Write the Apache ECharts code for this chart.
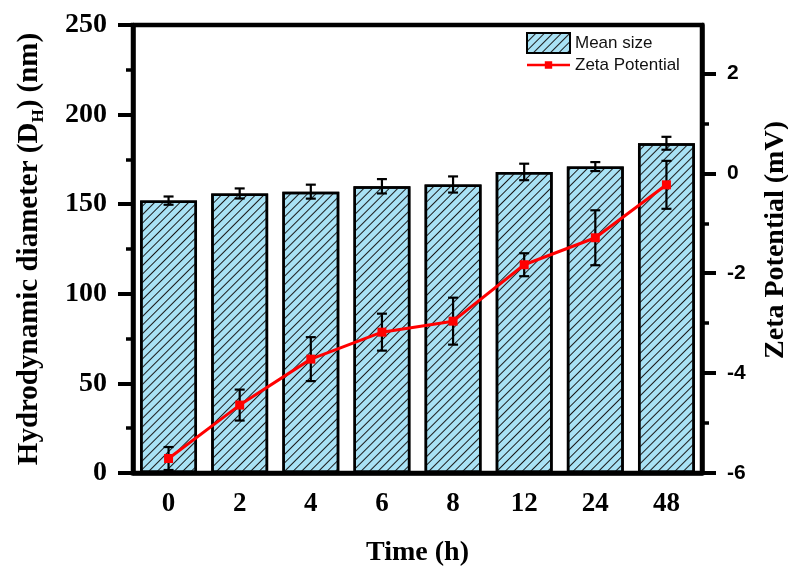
<!DOCTYPE html>
<html>
<head>
<meta charset="utf-8">
<script src="https://cdn.jsdelivr.net/npm/echarts@6/dist/echarts.min.js"></script>
<style>
html,body{margin:0;padding:0;background:#fff;}
#chart{width:788px;height:569px;}
</style>
</head>
<body>
<div id="chart"></div>
<script>
// time points (h)
var timeLabels = ['0','2','4','6','8','12','24','48'];
// hydrodynamic diameter (nm) and its error
var sizeMean = [152, 156, 157, 160, 161, 168, 171, 184];
var sizeErr  = [2.3, 2.8, 3.9, 4.0, 4.5, 4.6, 2.5, 3.6];
// zeta potential (mV) and its error
var zetaMean = [-5.71, -4.64, -3.72, -3.18, -2.96, -1.83, -1.29, -0.23];
var zetaErr  = [0.23, 0.31, 0.44, 0.37, 0.47, 0.23, 0.55, 0.48];
// right axis ticks
var zetaMajor = [-6, -4, -2, 0, 2];
var zetaMinor = [-5, -3, -1, 1];

var serif = '"Liberation Serif", "Times New Roman", serif';
var sans = '"Liberation Sans", Arial, sans-serif';

function errData(mean, err){
    var out = [];
    for(var i=0;i<mean.length;i++){
        out.push([i, mean[i]-err[i], mean[i]+err[i]]);
    }
    return out;
}

function errRender(params, api){
    var x = api.value(0);
    var lo = api.coord([x, api.value(1)]);
    var hi = api.coord([x, api.value(2)]);
    var w = 5;
    var st = {stroke:'#000', lineWidth:2.2};
    return {
        type:'group',
        children:[
            {type:'line', shape:{x1:lo[0], y1:lo[1], x2:hi[0], y2:hi[1]}, style:st},
            {type:'line', shape:{x1:lo[0]-w, y1:lo[1], x2:lo[0]+w, y2:lo[1]}, style:st},
            {type:'line', shape:{x1:hi[0]-w, y1:hi[1], x2:hi[0]+w, y2:hi[1]}, style:st}
        ]
    };
}

// legend icon: thin line with a small square in the middle (43x20 box)
var lineIcon = 'path://M0,0L0.01,0L0,0.01Z M43,20L42.99,20L43,19.99Z M0,8.8L43,8.8L43,11.2L0,11.2Z M17.8,6.3L25.2,6.3L25.2,13.7L17.8,13.7Z';

var myChart = echarts.init(document.getElementById('chart'));
myChart.setOption({
    animation:false,
    backgroundColor:'#fff',
    grid:{
        left:133, right:86, top:25, bottom:96,
        outerBoundsMode:'none',
        containLabel:false,
        show:true, borderColor:'#000', borderWidth:4.5
    },
    legend:{
        orient:'vertical',
        left:521, top:27,
        itemWidth:43, itemHeight:20, itemGap:1,
        data:[{name:'Mean size', icon:'rect'}, {name:'Zeta Potential', icon:lineIcon}],
        textStyle:{fontFamily:sans, fontSize:17, color:'#111'}
    },
    xAxis:[
        {
            type:'category',
            data:timeLabels,
            name:'Time (h)',
            nameLocation:'middle',
            nameGap:66,
            nameTextStyle:{fontFamily:serif, fontWeight:'bold', fontSize:28, color:'#000'},
            axisLine:{lineStyle:{color:'#000', width:4.5}},
            axisTick:{alignWithLabel:true, length:11, lineStyle:{color:'#000', width:4}},
            axisLabel:{margin:18, fontFamily:serif, fontWeight:'bold', fontSize:27, color:'#000'}
        },
        {
            type:'category',
            data:timeLabels,
            position:'bottom',
            axisLine:{show:false},
            axisTick:{length:5, lineStyle:{color:'#000', width:4}},
            axisLabel:{show:false}
        }
    ],
    yAxis:[
        {
            type:'value',
            min:0, max:250, interval:50,
            name:'Hydrodynamic diameter (D{sub|H}) (nm)',
            nameLocation:'middle',
            nameRotate:90,
            nameGap:86,
            nameTextStyle:{
                fontFamily:serif, fontWeight:'bold', fontSize:29, color:'#000', lineHeight:34,
                rich:{sub:{fontFamily:serif, fontWeight:'bold', fontSize:17, lineHeight:17, verticalAlign:'bottom', color:'#000'}}
            },
            axisLine:{show:true, lineStyle:{color:'#000', width:4.5}},
            axisTick:{show:true, length:15, lineStyle:{color:'#000', width:4}},
            minorTick:{show:true, splitNumber:2, length:7, lineStyle:{color:'#000', width:3.5}},
            splitLine:{show:false},
            axisLabel:{margin:26, fontFamily:serif, fontWeight:'bold', fontSize:28, color:'#000'}
        },
        {
            type:'value',
            position:'right',
            min:-6, max:2.97,
            name:'Zeta Potential (mV)',
            nameLocation:'middle',
            nameRotate:90,
            nameGap:60,
            nameTextStyle:{fontFamily:serif, fontWeight:'bold', fontSize:28, color:'#000', padding:[0,0,0,18]},
            axisLine:{show:true, lineStyle:{color:'#000', width:4.5}},
            axisTick:{show:true, length:14, customValues:zetaMajor, lineStyle:{color:'#000', width:4}},
            splitLine:{show:false},
            axisLabel:{margin:25, customValues:zetaMajor, fontFamily:sans, fontWeight:'bold', fontSize:21, color:'#000'}
        },
        {
            type:'value',
            position:'right',
            min:-6, max:2.97,
            axisLine:{show:false},
            axisTick:{show:true, length:7, customValues:zetaMinor, lineStyle:{color:'#000', width:3.5}},
            splitLine:{show:false},
            axisLabel:{show:false}
        }
    ],
    series:[
        {
            name:'Mean size',
            type:'bar',
            barWidth:'80%',
            data:sizeMean,
            itemStyle:{
                color:'#a9e2f5',
                borderColor:'#000',
                borderWidth:2.5,
                decal:{
                    symbol:'rect',
                    symbolSize:1,
                    color:'#1a1a1a',
                    dashArrayX:[1,0],
                    dashArrayY:[1,5],
                    rotation:-Math.PI/4
                }
            },
            z:2
        },
        {
            type:'custom',
            name:'sizeErr',
            data:errData(sizeMean, sizeErr),
            encode:{x:0, y:[1,2]},
            renderItem:errRender,
            z:3
        },
        {
            type:'custom',
            name:'zetaErr',
            yAxisIndex:1,
            data:errData(zetaMean, zetaErr),
            encode:{x:0, y:[1,2]},
            renderItem:errRender,
            z:4
        },
        {
            name:'Zeta Potential',
            type:'line',
            yAxisIndex:1,
            data:zetaMean,
            symbol:'rect',
            symbolSize:9,
            lineStyle:{color:'#ff0000', width:3},
            itemStyle:{color:'#ff0000'},
            z:5
        }
    ]
});
</script>
</body>
</html>
